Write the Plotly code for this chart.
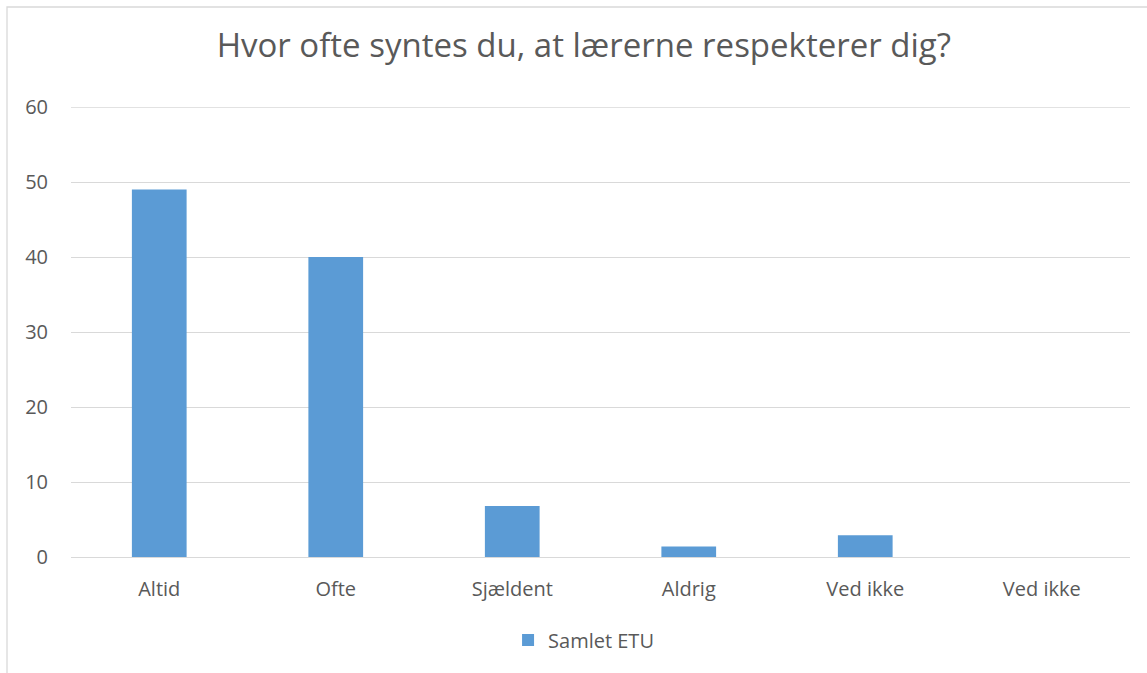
import plotly.graph_objects as go

categories = ["Altid", "Ofte", "Sjældent", "Aldrig", "Ved ikke", "Ved ikke"]
values = [49, 40, 6.8, 1.4, 2.9, 0]
series_name = "Samlet ETU"
title_text = "Hvor ofte syntes du, at lærerne respekterer dig?"
y_ticks = [0, 10, 20, 30, 40, 50, 60]

positions = list(range(len(categories)))
text_color = "#595959"
grid_color = "#D9D9D9"
font_family = "Open Sans, Noto Sans, sans-serif"

W, H = 1147, 673
L, R, T, B = 71, 17, 107, 116
pw, ph = W - L - R, H - T - B

fig = go.Figure()
fig.add_trace(go.Bar(
    x=positions,
    y=values,
    name=series_name,
    marker=dict(color="#5B9BD5", line=dict(width=0)),
    width=0.31,
    showlegend=True,
))

fig.update_layout(
    width=W,
    height=H,
    margin=dict(l=L, r=R, t=T, b=B),
    paper_bgcolor="white",
    plot_bgcolor="white",
    font=dict(family=font_family, color=text_color, size=20),
    title=dict(
        text=title_text,
        x=0.509,
        xanchor="center",
        y=1 - 45 / H,
        yanchor="middle",
        font=dict(size=33, color=text_color, family=font_family),
    ),
    xaxis=dict(
        tickmode="array",
        tickvals=positions,
        ticktext=categories,
        range=[-0.5, len(categories) - 0.5],
        showgrid=False,
        showline=False,
        zeroline=False,
        ticks="",
        ticklabelstandoff=18,
        tickfont=dict(size=20, color=text_color),
    ),
    yaxis=dict(
        range=[0, 60],
        tickmode="array",
        tickvals=y_ticks,
        showgrid=True,
        gridcolor=grid_color,
        gridwidth=1.3,
        zeroline=True,
        zerolinecolor=grid_color,
        zerolinewidth=1.3,
        showline=False,
        ticks="",
        ticklabelstandoff=22,
        tickfont=dict(size=20, color=text_color),
    ),
    legend=dict(
        orientation="h",
        x=0.484,
        xanchor="center",
        y=(557 - 640) / ph,
        yanchor="middle",
        font=dict(size=20, color=text_color),
        itemwidth=30,
    ),
    bargap=0.69,
    shapes=[
        dict(
            type="rect",
            xref="paper", yref="paper",
            x0=(7 - L) / pw, x1=(1160 - L) / pw,
            y0=(557 - 690) / ph, y1=(557 - 7) / ph,
            line=dict(color=grid_color, width=1.3),
            fillcolor="rgba(0,0,0,0)",
            layer="below",
        ),
        dict(
            type="line",
            xref="paper", yref="y",
            x0=0, x1=1, y0=y_ticks[-1], y1=y_ticks[-1],
            line=dict(color=grid_color, width=1.3),
            layer="below",
        ),
    ],
)

fig.write_html(
    "out.html",
    config={"displayModeBar": False},
    post_script="document.body.style.margin='0';document.body.style.overflow='hidden';",
)
